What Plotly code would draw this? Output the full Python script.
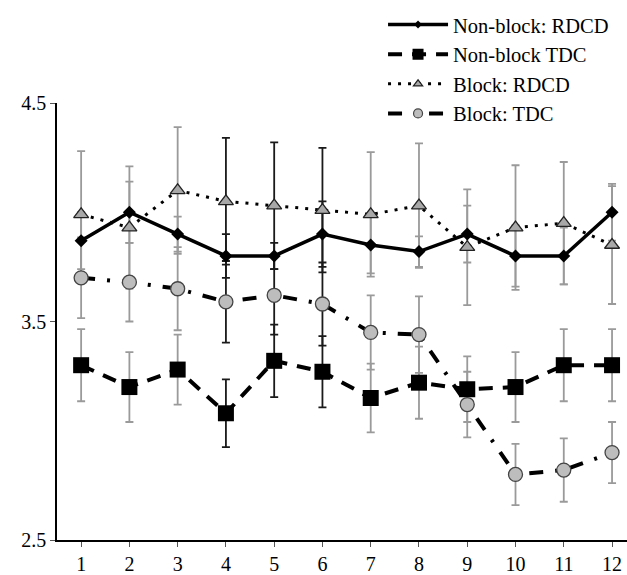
import plotly.graph_objects as go

# ---------------- data ----------------
sessions = [1, 2, 3, 4, 5, 6, 7, 8, 9, 10, 11, 12]
tick_labels = ["1", "2", "3", "4", "5", "6", "7", "8", "9", "10", "11", "12"]
y_ticks = [2.5, 3.5, 4.5]

nb_rdcd = [3.87, 4.00, 3.90, 3.80, 3.80, 3.90, 3.85, 3.82, 3.90, 3.80, 3.80, 4.00]
nb_rdcd_err = [0.13, 0.14, 0.08, 0.10, 0.06, 0.15, 0.13, 0.07, 0.13, 0.14, 0.13, 0.13]

nb_tdc = [3.30, 3.20, 3.28, 3.08, 3.32, 3.27, 3.15, 3.22, 3.19, 3.20, 3.30, 3.30]
nb_tdc_err = [0.165, 0.16, 0.16, 0.155, 0.166, 0.163, 0.157, 0.165, 0.15, 0.16, 0.165, 0.165]

b_rdcd = [3.99, 3.93, 4.10, 4.05, 4.03, 4.01, 3.99, 4.03, 3.84, 3.93, 3.95, 3.85]
b_rdcd_err = [0.29, 0.28, 0.29, 0.29, 0.29, 0.285, 0.285, 0.285, 0.265, 0.285, 0.28, 0.27]

b_tdc = [3.70, 3.68, 3.65, 3.59, 3.62, 3.58, 3.45, 3.44, 3.12, 2.80, 2.82, 2.90]
b_tdc_err = [0.185, 0.18, 0.19, 0.187, 0.18, 0.19, 0.17, 0.175, 0.15, 0.14, 0.145, 0.14]

dark_cols = [4, 5, 6]  # sessions whose error bars appear black

FONT = "Liberation Serif"
GRAY_ERR = "#9a9a9a"
DARK_ERR = "#1a1a1a"

fig = go.Figure()

# ---- error bars first (drawn beneath lines/markers) ----
for vals, errs in [(b_rdcd, b_rdcd_err), (nb_rdcd, nb_rdcd_err),
                   (b_tdc, b_tdc_err), (nb_tdc, nb_tdc_err)]:
    for dark in (False, True):
        idx = [i for i, s in enumerate(sessions) if (s in dark_cols) == dark]
        fig.add_trace(go.Scatter(
            x=[sessions[i] for i in idx],
            y=[vals[i] for i in idx],
            mode="markers",
            marker=dict(size=1, color="rgba(0,0,0,0)"),
            error_y=dict(type="data", array=[errs[i] for i in idx],
                         color=DARK_ERR if dark else GRAY_ERR,
                         thickness=1.8, width=4),
            showlegend=False, hoverinfo="skip",
        ))

styles = [
    ("Non-block: RDCD", nb_rdcd,
     dict(color="black", width=3.5),
     dict(symbol="diamond", size=10, color="black"),
     dict(symbol="diamond", size=6, color="black")),
    ("Non-block TDC", nb_tdc,
     dict(color="black", width=4, dash="14px,10px"),
     dict(symbol="square", size=16, color="black"),
     dict(symbol="square", size=11, color="black")),
    ("Block: RDCD", b_rdcd,
     dict(color="black", width=3, dash="3px,7px"),
     dict(symbol="triangle-up", size=13, color="#a8a8a8", line=dict(color="#222222", width=1.3)),
     dict(symbol="triangle-up", size=8, color="#a8a8a8", line=dict(color="#222222", width=1.2))),
    ("Block: TDC", b_tdc,
     dict(color="black", width=4, dash="14px,12px,3px,12px"),
     dict(symbol="circle", size=14, color="#bdbdbd", line=dict(color="#444444", width=1.3)),
     dict(symbol="circle", size=9, color="#bdbdbd", line=dict(color="#444444", width=1.2))),
]

# ---- series lines & markers ----
for name, vals, line, marker, _ in styles:
    fig.add_trace(go.Scatter(
        x=sessions, y=vals, mode="lines+markers", name=name,
        line=line, marker=marker, showlegend=False,
    ))

# ---- legend entries (smaller markers, as in the reference legend) ----
for name, vals, line, _, lmarker in styles:
    fig.add_trace(go.Scatter(
        x=[None], y=[None], mode="lines+markers", name=name,
        line=line, marker=lmarker, showlegend=True, hoverinfo="skip",
    ))

fig.update_layout(
    width=627, height=575,
    margin=dict(l=57, r=0, t=103, b=33),
    paper_bgcolor="white", plot_bgcolor="white",
    font=dict(family=FONT, size=20, color="black"),
    showlegend=True,
    legend=dict(
        x=0.572, y=1.225, xanchor="left", yanchor="top",
        bgcolor="rgba(0,0,0,0)", borderwidth=0,
        font=dict(family=FONT, size=20.5, color="black"),
        itemwidth=60, tracegroupgap=0,
    ),
    xaxis=dict(
        range=[0.5, 12.31], tickmode="array", tickvals=sessions, ticktext=tick_labels,
        showgrid=False, zeroline=False, showline=True, linecolor="black", linewidth=1.6,
        ticks="outside", ticklen=5, tickwidth=1.2, tickcolor="#555555",
        tickfont=dict(family=FONT, size=20, color="black"),
    ),
    yaxis=dict(
        range=[2.5, 4.5], tickmode="array", tickvals=y_ticks,
        ticktext=[f"{v:.1f}" for v in y_ticks],
        showgrid=False, zeroline=False, showline=True, linecolor="black", linewidth=1.6,
        ticks="outside", ticklen=5, tickwidth=1.2, tickcolor="#555555",
        tickfont=dict(family=FONT, size=20, color="black"),
    ),
)

fig.write_html("out.html")
